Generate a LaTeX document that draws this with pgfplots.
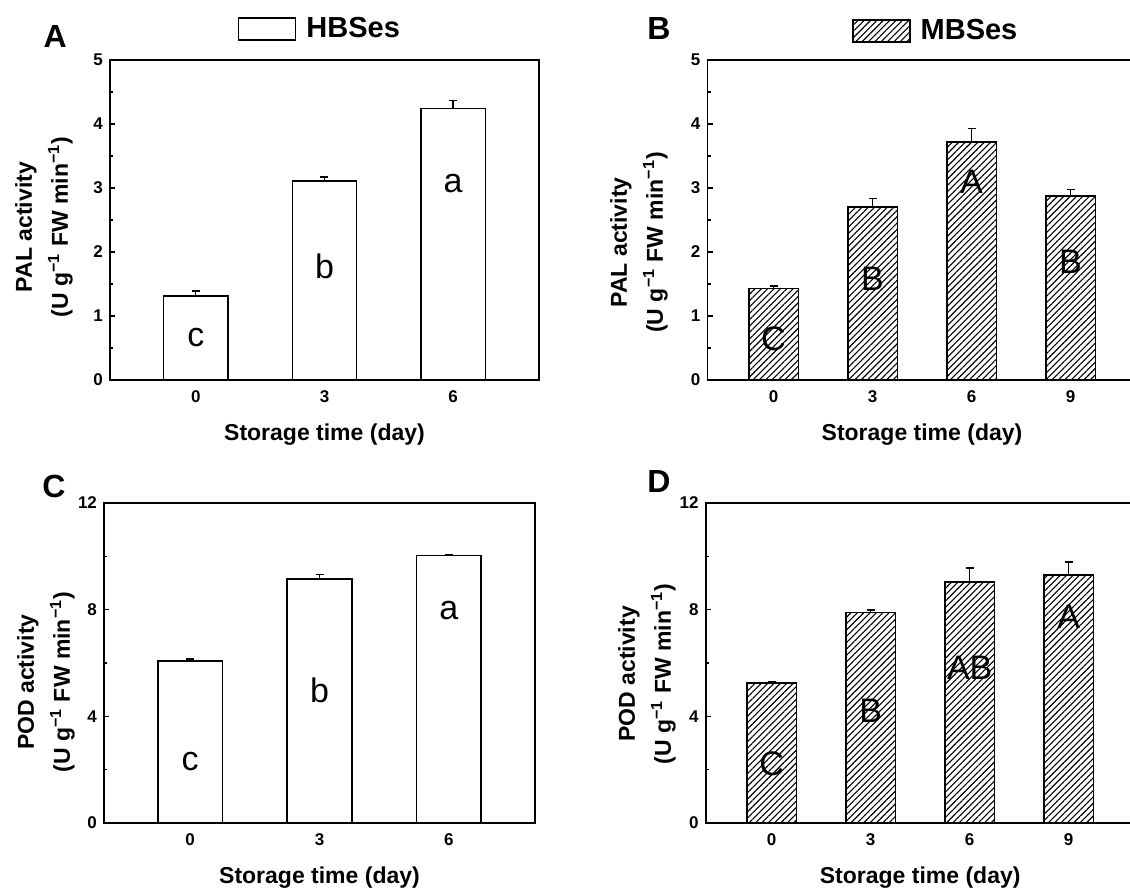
\documentclass[border=0pt]{standalone}
\usepackage{pgfplots}
\pgfplotsset{compat=1.18}
\usepackage{pgfplotstable}
\usepackage{fontspec}
\setmainfont{Liberation Sans}
\usetikzlibrary{patterns,patterns.meta}

\pgfplotstableread{
x y e
0 1.31 0.08
3 3.11 0.06
6 4.24 0.13
}\dataA
\pgfplotstableread{
x y e
0 1.43 0.04
3 2.70 0.14
6 3.72 0.21
9 2.875 0.10
}\dataB
\pgfplotstableread{
x y e
0 6.08 0.07
3 9.15 0.16
6 10.03 0.03
}\dataC
\pgfplotstableread{
x y e
0 5.25 0.04
3 7.90 0.09
6 9.03 0.53
9 9.30 0.49
}\dataD

\tikzset{
 hatch/.style={pattern={Lines[angle=45,distance=2.25pt,line width=0.55pt]}, pattern color=black},
 letter/.style={font=\fontsize{17}{20}\selectfont},
 plabel/.style={font=\fontsize{16}{19}\selectfont\bfseries}
}
\pgfplotsset{
 panel/.style={
  scale only axis, height=160pt, ymin=0, clip=false,
  axis line style={line width=0.9pt},
  tick align=inside, tick pos=left,
  xtick style={draw=none},
  ytick style={line width=0.75pt,black},
  major tick length=2.6pt, minor tick length=1.6pt,
  minor y tick num=1,
  /pgf/number format/assume math mode=true,
  ticklabel style={font=\fontsize{8.5}{10}\selectfont\bfseries},
  xticklabel style={yshift=0.8pt},
  xlabel={Storage time (day)},
  xlabel style={font=\fontsize{11.5}{13.8}\selectfont\bfseries, at={(axis description cs:0.5,0)}, anchor=north, yshift=-21.5pt, inner sep=0pt},
  ylabel style={font=\fontsize{11.5}{13.8}\selectfont\bfseries, align=center, anchor=south, inner sep=0pt},
  ybar, bar width=1.5,
  legend style={draw=none, fill=none, inner sep=0pt, outer sep=0pt, anchor=west,
    font=\fontsize{14.5}{17}\selectfont\bfseries, nodes={inner sep=0pt},
    /tikz/every odd column/.append style={column sep=5pt}},
 },
 bars/.style={draw=black, line width=0.75pt,
   error bars/y dir=plus, error bars/y explicit,
   error bars/error bar style={line width=0.7pt, black},
   error bars/error mark options={rotate=90, mark size=2pt, line width=0.7pt, black}},
}

\begin{document}
\begin{tikzpicture}
\path[use as bounding box, clip] (0,0) rectangle (565pt,445.5pt);

% Panel A
\begin{axis}[panel, at={(55pt,255.5pt)}, anchor=south west, width=214.5pt,
  xmin=-2, xmax=8, ymax=5, xtick={0,3,6}, ytick={0,1,2,3,4,5},
  ylabel={PAL activity\\[4.2pt](U g\textsuperscript{−1} FW min\textsuperscript{−1})},
  ylabel style={at={(axis description cs:-0.086,0.478)}},
  legend style={at={(axis description cs:0.298,1.097)}}]
\addlegendimage{legend image code/.code={\draw[fill=white, line width=0.8pt] (0pt,-5.5pt) rectangle (28.5pt,5.5pt);}}
\addlegendentry{HBSes}
\addplot[bars, fill=white] table[x=x, y=y, y error=e] {\dataA};
\node[letter] at (axis cs:0,0.66) {c};
\node[letter] at (axis cs:3,1.77) {b};
\node[letter] at (axis cs:6,3.07) {a};
\node[plabel] at (rel axis cs:-0.128,1.072) {A};
\end{axis}

% Panel B
\begin{axis}[panel, at={(353.75pt,255.5pt)}, anchor=south west, width=214.5pt,
  xmin=-2, xmax=11, ymax=5, xtick={0,3,6,9}, ytick={0,1,2,3,4,5},
  ylabel={PAL activity\\[4.2pt](U g\textsuperscript{−1} FW min\textsuperscript{−1})},
  ylabel style={at={(axis description cs:-0.092,0.43)}},
  legend style={at={(axis description cs:0.337,1.091)}}]
\addlegendimage{legend image code/.code={\draw[hatch, line width=0.8pt] (0pt,-5.5pt) rectangle (28.5pt,5.5pt);}}
\addlegendentry{MBSes}
\addplot[bars, hatch] table[x=x, y=y, y error=e] {\dataB};
\node[letter] at (axis cs:0,0.65) {C};
\node[letter] at (axis cs:3,1.58) {B};
\node[letter] at (axis cs:6,3.10) {A};
\node[letter] at (axis cs:9,1.85) {B};
\node[plabel] at (rel axis cs:-0.113,1.097) {B};
\end{axis}

% Panel C
\begin{axis}[panel, at={(52pt,34pt)}, anchor=south west, width=215.5pt,
  xmin=-2, xmax=8, ymax=12, xtick={0,3,6}, ytick={0,4,8,12},
  ylabel={POD activity\\[4.2pt](U g\textsuperscript{−1} FW min\textsuperscript{−1})},
  ylabel style={at={(axis description cs:-0.067,0.44)}}]
\addplot[bars, fill=white] table[x=x, y=y, y error=e] {\dataC};
\node[letter] at (axis cs:0,2.31) {c};
\node[letter] at (axis cs:3,4.97) {b};
\node[letter] at (axis cs:6,7.97) {a};
\node[plabel] at (rel axis cs:-0.116,1.053) {C};
\end{axis}

% Panel D
\begin{axis}[panel, at={(352.85pt,34pt)}, anchor=south west, width=214.5pt,
  xmin=-2, xmax=11, ymax=12, xtick={0,3,6,9}, ytick={0,4,8,12},
  ylabel={POD activity\\[4.2pt](U g\textsuperscript{−1} FW min\textsuperscript{−1})},
  ylabel style={at={(axis description cs:-0.069,0.466)}}]
\addplot[bars, hatch] table[x=x, y=y, y error=e] {\dataD};
\node[letter] at (axis cs:0,2.22) {C};
\node[letter] at (axis cs:3,4.22) {B};
\node[letter] at (axis cs:6,5.81) {AB};
\node[letter] at (axis cs:9,7.72) {A};
\node[plabel] at (rel axis cs:-0.109,1.066) {D};
\end{axis}
\end{tikzpicture}
\end{document}
